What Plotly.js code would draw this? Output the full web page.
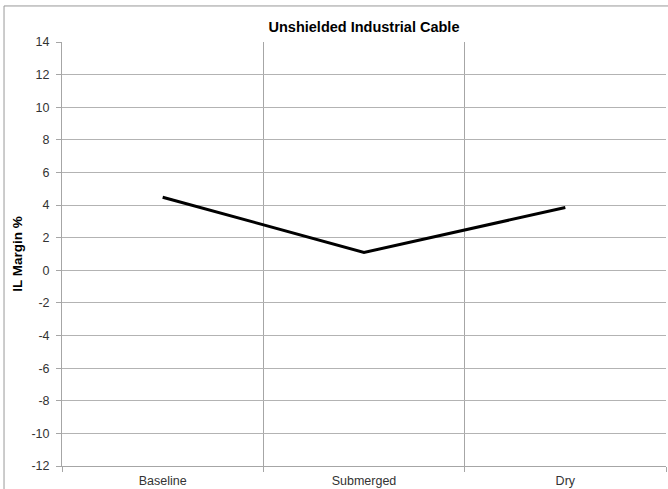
<!DOCTYPE html>
<html>
<head>
<meta charset="utf-8">
<script src="https://cdn.plot.ly/plotly-3.0.1.min.js"></script>
<style>
html,body{margin:0;padding:0;background:#fff;}
#chart{width:668px;height:489px;}
</style>
</head>
<body>
<div id="chart"></div>
<script>
var categories = ["Baseline", "Submerged", "Dry"];
var ilMargin = [4.48, 1.1, 3.85];
var yTickValues = [-12, -10, -8, -6, -4, -2, 0, 2, 4, 6, 8, 10, 12, 14];

var trace = {
  x: categories,
  y: ilMargin,
  type: "scatter",
  mode: "lines",
  line: {color: "#000000", width: 3},
  hoverinfo: "none"
};

var layout = {
  width: 668,
  height: 489,
  margin: {l: 62, r: 2, t: 42, b: 23},
  paper_bgcolor: "#ffffff",
  plot_bgcolor: "#ffffff",
  showlegend: false,
  font: {family: "Liberation Sans, Arial, sans-serif", color: "#333333"},
  title: {
    text: "<b>Unshielded Industrial Cable</b>",
    font: {family: "Liberation Sans, Arial, sans-serif", size: 14.5, color: "#000000"},
    x: 0.5, xref: "paper", xanchor: "center",
    y: 0.945, yref: "container", yanchor: "middle"
  },
  xaxis: {
    type: "category",
    range: [-0.5, 2.5],
    tickson: "boundaries",
    showgrid: true,
    gridcolor: "#a6a6a6",
    gridwidth: 1,
    showline: true,
    linecolor: "#a6a6a6",
    ticks: "outside",
    ticklen: 5,
    tickcolor: "#a6a6a6",
    ticklabelstandoff: 3,
    tickfont: {size: 12.5, color: "#333333"},
    zeroline: false,
    fixedrange: true
  },
  yaxis: {
    range: [-12, 14],
    tickvals: yTickValues,
    ticktext: yTickValues.map(String),
    showgrid: true,
    gridcolor: "#b3b3b3",
    gridwidth: 1,
    showline: true,
    linecolor: "#a6a6a6",
    ticks: "outside",
    ticklen: 5,
    tickcolor: "#a6a6a6",
    ticklabelstandoff: 4,
    tickfont: {size: 12.5, color: "#333333"},
    zeroline: false,
    title: {text: "<b>IL Margin %</b>", font: {size: 13.5, color: "#000000"}, standoff: 5},
    fixedrange: true
  },
  shapes: [
    {type: "line", xref: "paper", yref: "paper", x0: -0.096, x1: -0.096, y0: -0.2, y1: 1.085,
     line: {color: "#999999", width: 1}, layer: "above"},
    {type: "line", xref: "paper", yref: "paper", x0: -0.096, x1: 1.05, y0: 1.085, y1: 1.085,
     line: {color: "#999999", width: 1}, layer: "above"}
  ]
};

Plotly.newPlot("chart", [trace], layout, {staticPlot: true, displayModeBar: false});
</script>
</body>
</html>
